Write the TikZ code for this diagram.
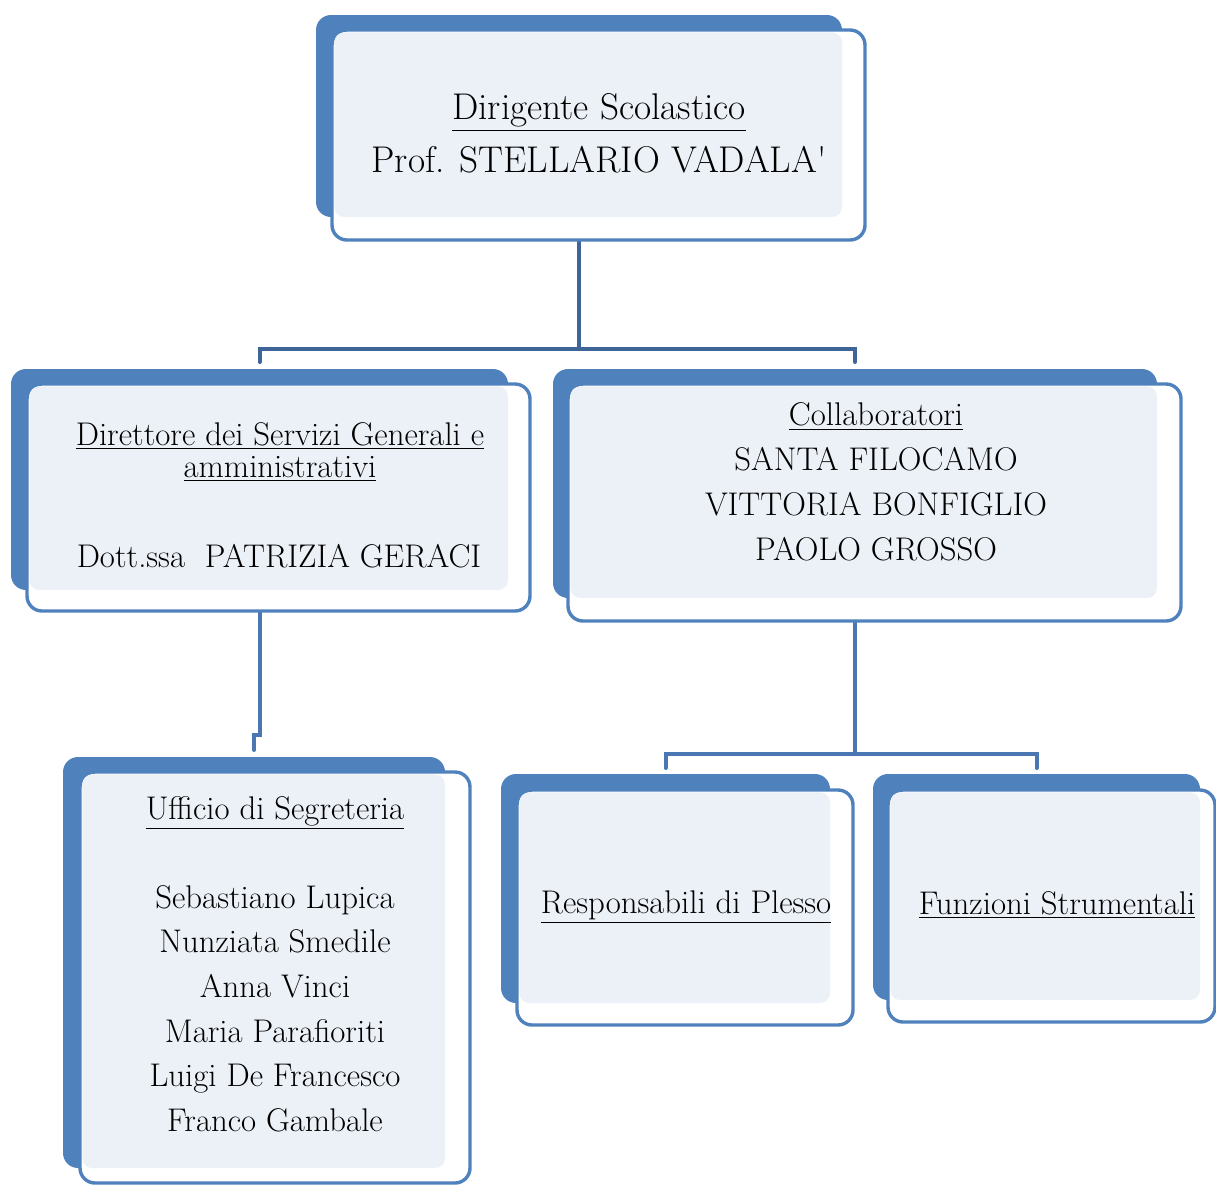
\documentclass[tikz,border=0pt]{standalone}
\usepackage{fontspec}
\usetikzlibrary{fit,calc}
\definecolor{boxblue}{HTML}{4F81BD}
\definecolor{boxtint}{HTML}{ECF1F8}
\definecolor{linkblue}{HTML}{4A77B2}
\definecolor{linkdark}{HTML}{3F6598}
\begin{document}
\begin{tikzpicture}[x=0.5pt,y=-0.5pt,line cap=round,
		back/.style={fill=boxblue,rounded corners=7.5pt,inner sep=0pt,outer sep=0pt},
		frame/.style={draw=boxblue,fill=white,line width=1.7pt,rounded corners=7.5pt,inner sep=0pt},
		tint/.style={fill=boxtint,rounded corners=5pt},
		link/.style={draw=linkblue,line width=2pt},
		txt/.style={align=center,inner sep=0pt}]
		\useasboundingbox (0,0) rectangle (1216,1185);
		% blue backs
		\node[back,fit={(316,15) (842,217)}] (b00) {};
		\node[back,fit={(11,369) (508,590)}] (b10) {};
		\node[back,fit={(553,369) (1157,598)}] (b11) {};
		\node[back,fit={(63,757) (445,1168)}] (b20) {};
		\node[back,fit={(501,774) (830,1003)}] (b21) {};
		\node[back,fit={(873,774) (1200,1000)}] (b22) {};
		% connectors
		\coordinate (h0) at ($(b00.south)+(0,132)$);
		\coordinate (h1) at ($(b11.south)+(0,156)$);
		\draw[link,draw=linkdark] (b00.south) -- (h0);
		\draw[link,draw=linkdark] ($(b10.north)+(0,-7)$) |- (h0) -| ($(b11.north)+(0,-7)$);
		\draw[link] (b10.south) -- ++(0,145) -| ($(b20.north)+(0,-7)$);
		\draw[link] (b11.south) -- (h1);
		\draw[link] ($(b21.north)+(0,-6)$) |- (h1) -| ($(b22.north)+(0,-6)$);
		% frames
		\node[frame,fit={(332,30) (865,240)}] (00) {};
		\node[frame,fit={(27,384) (530,611)}] (10) {};
		\node[frame,fit={(568,384) (1181,621)}] (11) {};
		\node[frame,fit={(80,772) (470,1183)}] (20) {};
		\node[frame,fit={(517,790) (853,1025)}] (21) {};
		\node[frame,fit={(888,790) (1215,1022)}] (22) {};
		% tints
		\fill[tint] ($(00.north west)+(4,4)$) rectangle (b00.south east);
		\fill[tint] ($(10.north west)+(4,4)$) rectangle (b10.south east);
		\fill[tint] ($(11.north west)+(4,4)$) rectangle (b11.south east);
		\fill[tint] ($(20.north west)+(4,4)$) rectangle (b20.south east);
		\fill[tint] ($(21.north west)+(4,4)$) rectangle (b21.south east);
		\fill[tint] ($(22.north west)+(4,4)$) rectangle (b22.south east);
		% texts
		\node[txt,font=\fontsize{18.6}{26.5}\selectfont] (t00) at (599,133.5) {\underline{Dirigente Scolastico}\\Prof. STELLARIO VADALA\textquotesingle};
		\node[txt,font=\fontsize{16.4}{16}\selectfont] (t10) at (280,452) {\underline{Direttore dei Servizi Generali e}\\\underline{amministrativi}};
		\node[txt,font=\fontsize{16.4}{18}\selectfont] (t10b) at (279,556) {Dott.ssa\ \ PATRIZIA GERACI};
		\node[txt,font=\fontsize{16.4}{22.5}\selectfont] (t11) at (876,482) {\underline{Collaboratori}\\SANTA FILOCAMO\\VITTORIA BONFIGLIO\\PAOLO GROSSO};
		\node[txt,font=\fontsize{16.4}{22.3}\selectfont] (t20) at (275,964) {\underline{Ufficio di Segreteria}\\[22.3pt]Sebastiano Lupica\\Nunziata Smedile\\Anna Vinci\\Maria Parafioriti\\Luigi De Francesco\\Franco Gambale};
		\node[txt,font=\fontsize{16.4}{18}\selectfont] (t21) at (686,907) {\underline{Responsabili di Plesso}};
		\node[txt,font=\fontsize{16.4}{18}\selectfont] (t22) at (1057,905) {\underline{Funzioni Strumentali}};
	\end{tikzpicture}
\end{document}
